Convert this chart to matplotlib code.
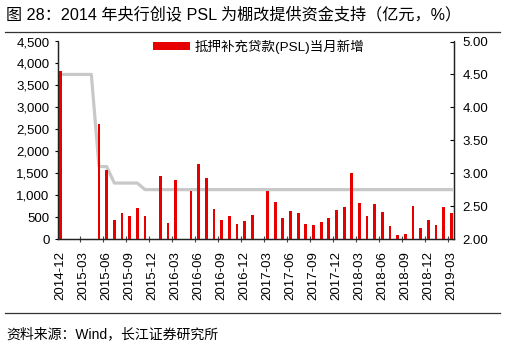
import matplotlib.pyplot as plt
from matplotlib.lines import Line2D
from matplotlib.ticker import FuncFormatter, FixedLocator

plt.rcParams['font.family'] = ['Liberation Sans', 'Noto Sans CJK SC']
plt.rcParams['axes.unicode_minus'] = False

# 月份 2014-12 ~ 2019-03
months = []
y, m = 2014, 12
while (y, m) <= (2019, 3):
    months.append(f"{y}-{m:02d}")
    m += 1
    if m > 12:
        y, m = y + 1, 1

# PSL 当月新增（亿元）
psl_new = [3831, 0, 0, 0, 0, 2630, 1568, 432, 598, 523, 705, 523, 0,
           1439, 357, 1341, 0, 1084, 1712, 1394, 675, 439, 516, 348, 416, 539,
           0, 1088, 841, 477, 643, 584, 341, 325, 386, 477, 659, 720, 1510,
           811, 530, 795, 606, 303, 91, 121, 743, 250, 432, 311, 720, 591]
# PSL 利率（%）
psl_rate = [4.5, 4.5, 4.5, 4.5, 4.5, 3.1, 3.1, 2.85, 2.85, 2.85, 2.85] + [2.75] * 41

x = list(range(len(months)))

fig = plt.figure(figsize=(5.05, 3.55), dpi=100)
ax = fig.add_axes([58 / 505, 1 - 239 / 355, (454.3 - 58) / 505, (239 - 41.5) / 355])
ax2 = ax.twinx()

ax.bar(x, psl_new, width=0.36, color='#E60000', zorder=2, label='抵押补充贷款(PSL)当月新增')
ax2.plot(x, psl_rate, color='#C8C8C8', lw=2.3, zorder=3)
ax.set_zorder(ax2.get_zorder() + 1)
ax.patch.set_visible(False)

ax.set_xlim(-0.35, 51.38)
ax.set_ylim(0, 4500)
ax.set_yticks(range(0, 4501, 500))
ax.yaxis.set_major_formatter(FuncFormatter(lambda v, p: f"{int(v):,}"))
ax2.set_ylim(2.0, 5.0)
ax2.set_yticks([2.0, 2.5, 3.0, 3.5, 4.0, 4.5, 5.0])
ax2.yaxis.set_major_formatter(FuncFormatter(lambda v, p: f"{v:.2f}"))

ax.xaxis.set_major_locator(FixedLocator(x[::3]))
ax.set_xticklabels(months[::3], rotation=90)
ax.xaxis.set_minor_locator(FixedLocator([k + 2.5 for k in range(0, 50, 3)]))
ax.tick_params(axis='x', which='major', length=0, pad=9, labelsize=9.5)
ax.tick_params(axis='x', which='minor', direction='inout', length=5, width=0.8, color='#444444')
ax.tick_params(axis='y', direction='out', length=2, labelsize=9.5, pad=4)
ax2.tick_params(axis='y', direction='in', length=3, labelsize=9.5, pad=6)

for a in (ax, ax2):
    a.spines['top'].set_visible(False)
    for s in ('left', 'right', 'bottom'):
        a.spines[s].set_linewidth(0.9)
        a.spines[s].set_color('#222222')

ax.legend(loc='upper left', bbox_to_anchor=(0.24, 1.01), frameon=False, fontsize=9.7,
          handlelength=2.75, handleheight=0.45, borderpad=0, borderaxespad=0, handletextpad=0.35)

fig.text(6 / 505, 1 - 14 / 355, '图 28：2014 年央行创设 PSL 为棚改提供资金支持（亿元，%）',
         fontsize=11.6, va='center', ha='left')
fig.add_artist(Line2D([5 / 505, 500 / 505], [1 - 32.3 / 355] * 2, color='#333333', lw=0.9))
fig.add_artist(Line2D([5 / 505, 500 / 505], [1 - 313.3 / 355] * 2, color='#333333', lw=0.9))
fig.text(6 / 505, 1 - 334 / 355, '资料来源：Wind，长江证券研究所', fontsize=10, va='center', ha='left')

fig.savefig('out.png', dpi=100)
